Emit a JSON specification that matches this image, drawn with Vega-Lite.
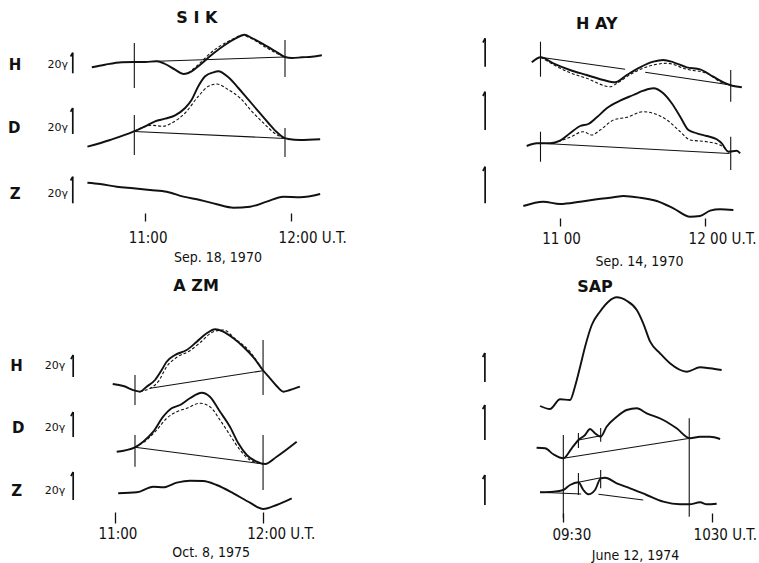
{
"$schema": "https://vega.github.io/schema/vega-lite/v6.json",
"background": "white",
"padding": 0,
"columns": 2,
"spacing": 0,
"bounds": "flush",
"config": {"view": {"stroke": null}},
"datasets": {
"lines": [
{"p":"SIK","s":"H","k":"s","t":638.4,"y":213.7},{"p":"SIK","s":"H","k":"s","t":643.8,"y":216.3},{"p":"SIK","s":"H","k":"s","t":650.7,"y":218.7},{"p":"SIK","s":"H","k":"s","t":655.8,"y":219},{"p":"SIK","s":"H","k":"s","t":660.2,"y":219},{"p":"SIK","s":"H","k":"s","t":665.0,"y":219.7},{"p":"SIK","s":"H","k":"s","t":668.4,"y":217},{"p":"SIK","s":"H","k":"s","t":672.5,"y":211.3},{"p":"SIK","s":"H","k":"s","t":675.9,"y":207},{"p":"SIK","s":"H","k":"s","t":677.9,"y":208},{"p":"SIK","s":"H","k":"s","t":682.0,"y":214.7},{"p":"SIK","s":"H","k":"s","t":687.5,"y":226.3},{"p":"SIK","s":"H","k":"s","t":693.0,"y":236.3},{"p":"SIK","s":"H","k":"s","t":697.1,"y":242.3},{"p":"SIK","s":"H","k":"s","t":700.9,"y":246.3},{"p":"SIK","s":"H","k":"s","t":703.9,"y":243},{"p":"SIK","s":"H","k":"s","t":709.4,"y":235.7},{"p":"SIK","s":"H","k":"s","t":714.1,"y":229},{"p":"SIK","s":"H","k":"s","t":717.5,"y":224},{"p":"SIK","s":"H","k":"s","t":720.3,"y":223},{"p":"SIK","s":"H","k":"s","t":724.4,"y":223.7},{"p":"SIK","s":"H","k":"s","t":728.5,"y":224.3},{"p":"SIK","s":"H","k":"s","t":732.6,"y":225.7},
{"p":"SIK","s":"H","k":"d","t":677.9,"y":208},{"p":"SIK","s":"H","k":"d","t":682.0,"y":216.3},{"p":"SIK","s":"H","k":"d","t":687.5,"y":229},{"p":"SIK","s":"H","k":"d","t":693.0,"y":238},{"p":"SIK","s":"H","k":"d","t":697.1,"y":243},{"p":"SIK","s":"H","k":"d","t":699.8,"y":245.7},{"p":"SIK","s":"H","k":"d","t":703.9,"y":242.3},{"p":"SIK","s":"H","k":"d","t":709.4,"y":234},{"p":"SIK","s":"H","k":"d","t":714.1,"y":227.7},{"p":"SIK","s":"H","k":"d","t":717.5,"y":223.7},
{"p":"SIK","s":"D","k":"s","t":636.6,"y":134.3},{"p":"SIK","s":"D","k":"s","t":645.9,"y":141},{"p":"SIK","s":"D","k":"s","t":655.4,"y":149.3},{"p":"SIK","s":"D","k":"s","t":660.2,"y":154.7},{"p":"SIK","s":"D","k":"s","t":664.3,"y":159.7},{"p":"SIK","s":"D","k":"s","t":668.4,"y":162.3},{"p":"SIK","s":"D","k":"s","t":672.5,"y":165.7},{"p":"SIK","s":"D","k":"s","t":676.6,"y":173},{"p":"SIK","s":"D","k":"s","t":679.3,"y":181.3},{"p":"SIK","s":"D","k":"s","t":682.0,"y":194.7},{"p":"SIK","s":"D","k":"s","t":684.8,"y":204.7},{"p":"SIK","s":"D","k":"s","t":688.2,"y":208.7},{"p":"SIK","s":"D","k":"s","t":690.2,"y":209.7},{"p":"SIK","s":"D","k":"s","t":694.3,"y":203.7},{"p":"SIK","s":"D","k":"s","t":698.4,"y":193},{"p":"SIK","s":"D","k":"s","t":702.5,"y":181.3},{"p":"SIK","s":"D","k":"s","t":706.6,"y":169.7},{"p":"SIK","s":"D","k":"s","t":710.7,"y":158},{"p":"SIK","s":"D","k":"s","t":714.1,"y":149},{"p":"SIK","s":"D","k":"s","t":716.8,"y":143.7},{"p":"SIK","s":"D","k":"s","t":718.9,"y":142},{"p":"SIK","s":"D","k":"s","t":723.7,"y":141},{"p":"SIK","s":"D","k":"s","t":731.9,"y":141.7},
{"p":"SIK","s":"D","k":"d","t":655.8,"y":149.7},{"p":"SIK","s":"D","k":"d","t":663.0,"y":155.7},{"p":"SIK","s":"D","k":"d","t":667.7,"y":154.7},{"p":"SIK","s":"D","k":"d","t":671.1,"y":158},{"p":"SIK","s":"D","k":"d","t":676.6,"y":168},{"p":"SIK","s":"D","k":"d","t":682.0,"y":184.7},{"p":"SIK","s":"D","k":"d","t":686.1,"y":194.7},{"p":"SIK","s":"D","k":"d","t":689.6,"y":197},{"p":"SIK","s":"D","k":"d","t":694.3,"y":191.3},{"p":"SIK","s":"D","k":"d","t":699.1,"y":183},{"p":"SIK","s":"D","k":"d","t":703.9,"y":169.7},{"p":"SIK","s":"D","k":"d","t":709.4,"y":156.3},{"p":"SIK","s":"D","k":"d","t":714.1,"y":146.3},{"p":"SIK","s":"D","k":"d","t":717.5,"y":143},
{"p":"SIK","s":"Z","k":"s","t":636.6,"y":98.3},{"p":"SIK","s":"Z","k":"s","t":641.8,"y":97},{"p":"SIK","s":"Z","k":"s","t":648.6,"y":94.3},{"p":"SIK","s":"Z","k":"s","t":655.4,"y":92.7},{"p":"SIK","s":"Z","k":"s","t":662.3,"y":91},{"p":"SIK","s":"Z","k":"s","t":669.1,"y":89.3},{"p":"SIK","s":"Z","k":"s","t":675.9,"y":84.3},{"p":"SIK","s":"Z","k":"s","t":682.7,"y":81},{"p":"SIK","s":"Z","k":"s","t":689.6,"y":76.7},{"p":"SIK","s":"Z","k":"s","t":696.4,"y":73.3},{"p":"SIK","s":"Z","k":"s","t":703.2,"y":74.3},{"p":"SIK","s":"Z","k":"s","t":710.0,"y":79.3},{"p":"SIK","s":"Z","k":"s","t":716.8,"y":84.3},{"p":"SIK","s":"Z","k":"s","t":723.7,"y":83.7},{"p":"SIK","s":"Z","k":"s","t":731.9,"y":87},
{"p":"HAY","s":"H","k":"s","t":648.3,"y":218.7},{"p":"HAY","s":"H","k":"s","t":652.0,"y":223.7},{"p":"HAY","s":"H","k":"s","t":657.2,"y":217.7},{"p":"HAY","s":"H","k":"s","t":664.1,"y":211},{"p":"HAY","s":"H","k":"s","t":671.0,"y":206},{"p":"HAY","s":"H","k":"s","t":677.9,"y":201},{"p":"HAY","s":"H","k":"s","t":682.8,"y":198.7},{"p":"HAY","s":"H","k":"s","t":687.6,"y":206},{"p":"HAY","s":"H","k":"s","t":693.1,"y":213.7},{"p":"HAY","s":"H","k":"s","t":698.6,"y":219.3},{"p":"HAY","s":"H","k":"s","t":702.7,"y":221},{"p":"HAY","s":"H","k":"s","t":706.9,"y":218.7},{"p":"HAY","s":"H","k":"s","t":712.4,"y":213.7},{"p":"HAY","s":"H","k":"s","t":717.9,"y":211.7},{"p":"HAY","s":"H","k":"s","t":723.4,"y":204.3},{"p":"HAY","s":"H","k":"s","t":727.6,"y":198.7},{"p":"HAY","s":"H","k":"s","t":730.3,"y":196},{"p":"HAY","s":"H","k":"s","t":735.2,"y":193.7},
{"p":"HAY","s":"H","k":"d","t":652.0,"y":223.7},{"p":"HAY","s":"H","k":"d","t":664.1,"y":208.3},{"p":"HAY","s":"H","k":"d","t":671.0,"y":202.7},{"p":"HAY","s":"H","k":"d","t":680.7,"y":194.3},{"p":"HAY","s":"H","k":"d","t":683.5,"y":197.7},{"p":"HAY","s":"H","k":"d","t":690.3,"y":208.3},{"p":"HAY","s":"H","k":"d","t":698.6,"y":216},{"p":"HAY","s":"H","k":"d","t":704.2,"y":217.7},{"p":"HAY","s":"H","k":"d","t":712.4,"y":211.7},{"p":"HAY","s":"H","k":"d","t":720.7,"y":207.7},{"p":"HAY","s":"H","k":"d","t":726.2,"y":199.3},{"p":"HAY","s":"H","k":"d","t":730.3,"y":196},
{"p":"HAY","s":"D","k":"s","t":646.2,"y":135},{"p":"HAY","s":"D","k":"s","t":650.4,"y":137.7},{"p":"HAY","s":"D","k":"s","t":655.9,"y":137.7},{"p":"HAY","s":"D","k":"s","t":660,"y":140.3},{"p":"HAY","s":"D","k":"s","t":664.1,"y":147.7},{"p":"HAY","s":"D","k":"s","t":668.3,"y":155},{"p":"HAY","s":"D","k":"s","t":671.7,"y":157},{"p":"HAY","s":"D","k":"s","t":675.2,"y":163.7},{"p":"HAY","s":"D","k":"s","t":679.3,"y":172.7},{"p":"HAY","s":"D","k":"s","t":684.8,"y":180.3},{"p":"HAY","s":"D","k":"s","t":690.3,"y":186},{"p":"HAY","s":"D","k":"s","t":694.5,"y":190.3},{"p":"HAY","s":"D","k":"s","t":698.6,"y":192.7},{"p":"HAY","s":"D","k":"s","t":702.7,"y":187.7},{"p":"HAY","s":"D","k":"s","t":706.2,"y":177.7},{"p":"HAY","s":"D","k":"s","t":709.7,"y":164.3},{"p":"HAY","s":"D","k":"s","t":713.1,"y":151},{"p":"HAY","s":"D","k":"s","t":716.6,"y":147.7},{"p":"HAY","s":"D","k":"s","t":720.7,"y":145},{"p":"HAY","s":"D","k":"s","t":724.8,"y":141.7},{"p":"HAY","s":"D","k":"s","t":726.9,"y":137.7},{"p":"HAY","s":"D","k":"s","t":729.6,"y":129.3},{"p":"HAY","s":"D","k":"s","t":733.1,"y":130.3},{"p":"HAY","s":"D","k":"s","t":734.5,"y":127.7},
{"p":"HAY","s":"D","k":"d","t":657.2,"y":137.7},{"p":"HAY","s":"D","k":"d","t":664.1,"y":143.7},{"p":"HAY","s":"D","k":"d","t":669.6,"y":149.3},{"p":"HAY","s":"D","k":"d","t":673.1,"y":146},{"p":"HAY","s":"D","k":"d","t":676.6,"y":151},{"p":"HAY","s":"D","k":"d","t":682.1,"y":161},{"p":"HAY","s":"D","k":"d","t":687.6,"y":163.7},{"p":"HAY","s":"D","k":"d","t":694.5,"y":169.3},{"p":"HAY","s":"D","k":"d","t":698.6,"y":167.7},{"p":"HAY","s":"D","k":"d","t":704.2,"y":161},{"p":"HAY","s":"D","k":"d","t":709.7,"y":149.3},{"p":"HAY","s":"D","k":"d","t":713.8,"y":141},{"p":"HAY","s":"D","k":"d","t":720.7,"y":139.3},{"p":"HAY","s":"D","k":"d","t":726.2,"y":136},{"p":"HAY","s":"D","k":"d","t":729.6,"y":129.3},
{"p":"HAY","s":"Z","k":"s","t":644.8,"y":75},{"p":"HAY","s":"Z","k":"s","t":653.1,"y":79.3},{"p":"HAY","s":"Z","k":"s","t":660,"y":77},{"p":"HAY","s":"Z","k":"s","t":668.3,"y":79.3},{"p":"HAY","s":"Z","k":"s","t":675.2,"y":81.7},{"p":"HAY","s":"Z","k":"s","t":682.1,"y":83.7},{"p":"HAY","s":"Z","k":"s","t":686.2,"y":85},{"p":"HAY","s":"Z","k":"s","t":693.1,"y":83.3},{"p":"HAY","s":"Z","k":"s","t":700.0,"y":80},{"p":"HAY","s":"Z","k":"s","t":706.9,"y":72.7},{"p":"HAY","s":"Z","k":"s","t":713.8,"y":64.3},{"p":"HAY","s":"Z","k":"s","t":717.9,"y":65},{"p":"HAY","s":"Z","k":"s","t":722.1,"y":70.3},{"p":"HAY","s":"Z","k":"s","t":726.2,"y":71.7},{"p":"HAY","s":"Z","k":"s","t":731.7,"y":71},
{"p":"AZM","s":"H","k":"s","t":659.1,"y":179},{"p":"AZM","s":"H","k":"s","t":663.4,"y":177},{"p":"AZM","s":"H","k":"s","t":668.1,"y":172.3},{"p":"AZM","s":"H","k":"s","t":670.1,"y":171.3},{"p":"AZM","s":"H","k":"s","t":672.8,"y":176.3},{"p":"AZM","s":"H","k":"s","t":676.2,"y":183},{"p":"AZM","s":"H","k":"s","t":678.9,"y":193},{"p":"AZM","s":"H","k":"s","t":680.9,"y":201.3},{"p":"AZM","s":"H","k":"s","t":684.3,"y":208},{"p":"AZM","s":"H","k":"s","t":689.0,"y":213},{"p":"AZM","s":"H","k":"s","t":693.1,"y":221.3},{"p":"AZM","s":"H","k":"s","t":697.1,"y":229.7},{"p":"AZM","s":"H","k":"s","t":700.5,"y":233.7},{"p":"AZM","s":"H","k":"s","t":703.8,"y":231.3},{"p":"AZM","s":"H","k":"s","t":707.9,"y":224.7},{"p":"AZM","s":"H","k":"s","t":711.9,"y":216.3},{"p":"AZM","s":"H","k":"s","t":716.0,"y":205.7},{"p":"AZM","s":"H","k":"s","t":719.8,"y":193},{"p":"AZM","s":"H","k":"s","t":722.7,"y":184.7},{"p":"AZM","s":"H","k":"s","t":725.4,"y":177},{"p":"AZM","s":"H","k":"s","t":728.1,"y":171.3},{"p":"AZM","s":"H","k":"s","t":730.8,"y":173},{"p":"AZM","s":"H","k":"s","t":734.8,"y":176.3},
{"p":"AZM","s":"H","k":"d","t":670.1,"y":171.3},{"p":"AZM","s":"H","k":"d","t":674.2,"y":174.7},{"p":"AZM","s":"H","k":"d","t":677.5,"y":181.3},{"p":"AZM","s":"H","k":"d","t":680.9,"y":196.3},{"p":"AZM","s":"H","k":"d","t":685.0,"y":205.7},{"p":"AZM","s":"H","k":"d","t":690.3,"y":212.3},{"p":"AZM","s":"H","k":"d","t":694.4,"y":220.3},{"p":"AZM","s":"H","k":"d","t":699.8,"y":231.3},{"p":"AZM","s":"H","k":"d","t":703.8,"y":233},{"p":"AZM","s":"H","k":"d","t":709.2,"y":223},{"p":"AZM","s":"H","k":"d","t":714.6,"y":211.3},{"p":"AZM","s":"H","k":"d","t":719.8,"y":192.3},
{"p":"AZM","s":"D","k":"s","t":660.7,"y":111.3},{"p":"AZM","s":"D","k":"s","t":668.1,"y":115.7},{"p":"AZM","s":"D","k":"s","t":671.4,"y":121.3},{"p":"AZM","s":"D","k":"s","t":675.5,"y":131.3},{"p":"AZM","s":"D","k":"s","t":679.5,"y":146.3},{"p":"AZM","s":"D","k":"s","t":682.9,"y":154.7},{"p":"AZM","s":"D","k":"s","t":686.3,"y":158},{"p":"AZM","s":"D","k":"s","t":690.3,"y":164.7},{"p":"AZM","s":"D","k":"s","t":695.1,"y":170.3},{"p":"AZM","s":"D","k":"s","t":698.4,"y":166.3},{"p":"AZM","s":"D","k":"s","t":702.5,"y":151.3},{"p":"AZM","s":"D","k":"s","t":706.5,"y":136.3},{"p":"AZM","s":"D","k":"s","t":709.9,"y":119.7},{"p":"AZM","s":"D","k":"s","t":713.3,"y":108},{"p":"AZM","s":"D","k":"s","t":717.3,"y":101.3},{"p":"AZM","s":"D","k":"s","t":720.7,"y":99},{"p":"AZM","s":"D","k":"s","t":725.4,"y":106.3},{"p":"AZM","s":"D","k":"s","t":733.5,"y":121.3},
{"p":"AZM","s":"D","k":"d","t":668.1,"y":115.7},{"p":"AZM","s":"D","k":"d","t":672.8,"y":123},{"p":"AZM","s":"D","k":"d","t":676.9,"y":133},{"p":"AZM","s":"D","k":"d","t":680.9,"y":144.7},{"p":"AZM","s":"D","k":"d","t":685.0,"y":151.3},{"p":"AZM","s":"D","k":"d","t":689.0,"y":154.7},{"p":"AZM","s":"D","k":"d","t":694.4,"y":159.7},{"p":"AZM","s":"D","k":"d","t":698.4,"y":156.3},{"p":"AZM","s":"D","k":"d","t":702.5,"y":143},{"p":"AZM","s":"D","k":"d","t":706.5,"y":128},{"p":"AZM","s":"D","k":"d","t":710.6,"y":113},{"p":"AZM","s":"D","k":"d","t":714.6,"y":103},{"p":"AZM","s":"D","k":"d","t":720.0,"y":99},
{"p":"AZM","s":"Z","k":"s","t":661.3,"y":69.7},{"p":"AZM","s":"Z","k":"s","t":668.8,"y":70.7},{"p":"AZM","s":"Z","k":"s","t":675.5,"y":76.3},{"p":"AZM","s":"Z","k":"s","t":679.5,"y":75.7},{"p":"AZM","s":"Z","k":"s","t":685.0,"y":80.3},{"p":"AZM","s":"Z","k":"s","t":690.3,"y":82.3},{"p":"AZM","s":"Z","k":"s","t":695.7,"y":82},{"p":"AZM","s":"Z","k":"s","t":701.1,"y":78},{"p":"AZM","s":"Z","k":"s","t":707.9,"y":69.7},{"p":"AZM","s":"Z","k":"s","t":714.6,"y":60.3},{"p":"AZM","s":"Z","k":"s","t":720.0,"y":54},{"p":"AZM","s":"Z","k":"s","t":725.4,"y":58},{"p":"AZM","s":"Z","k":"s","t":731.5,"y":64.7},
{"p":"SAP","s":"H","k":"s","t":560.6,"y":157},{"p":"SAP","s":"H","k":"s","t":564.6,"y":154},{"p":"SAP","s":"H","k":"s","t":568.7,"y":163.7},{"p":"SAP","s":"H","k":"s","t":572.7,"y":163},{"p":"SAP","s":"H","k":"s","t":574.7,"y":176.3},{"p":"SAP","s":"H","k":"s","t":576.8,"y":196.3},{"p":"SAP","s":"H","k":"s","t":578.8,"y":216.3},{"p":"SAP","s":"H","k":"s","t":581.5,"y":238},{"p":"SAP","s":"H","k":"s","t":584.8,"y":251.3},{"p":"SAP","s":"H","k":"s","t":588.2,"y":261.3},{"p":"SAP","s":"H","k":"s","t":591.6,"y":265.7},{"p":"SAP","s":"H","k":"s","t":595.6,"y":262.3},{"p":"SAP","s":"H","k":"s","t":599.7,"y":253},{"p":"SAP","s":"H","k":"s","t":602.3,"y":239.7},{"p":"SAP","s":"H","k":"s","t":605.1,"y":221.3},{"p":"SAP","s":"H","k":"s","t":609.1,"y":209.7},{"p":"SAP","s":"H","k":"s","t":613.1,"y":199.7},{"p":"SAP","s":"H","k":"s","t":619.9,"y":191.3},{"p":"SAP","s":"H","k":"s","t":625.3,"y":195.7},{"p":"SAP","s":"H","k":"s","t":629.3,"y":194.7},{"p":"SAP","s":"H","k":"s","t":634.0,"y":193},
{"p":"SAP","s":"D","k":"s","t":559.2,"y":115.3},{"p":"SAP","s":"D","k":"s","t":562.6,"y":114.7},{"p":"SAP","s":"D","k":"s","t":566.0,"y":108.7},{"p":"SAP","s":"D","k":"s","t":570.0,"y":104.7},{"p":"SAP","s":"D","k":"s","t":573.4,"y":114.7},{"p":"SAP","s":"D","k":"s","t":576.1,"y":123},{"p":"SAP","s":"D","k":"s","t":578.8,"y":128},{"p":"SAP","s":"D","k":"s","t":580.8,"y":134},{"p":"SAP","s":"D","k":"s","t":582.8,"y":129.7},{"p":"SAP","s":"D","k":"s","t":585.1,"y":126.3},{"p":"SAP","s":"D","k":"s","t":587.5,"y":136.3},{"p":"SAP","s":"D","k":"s","t":591.6,"y":146.3},{"p":"SAP","s":"D","k":"s","t":595.6,"y":153},{"p":"SAP","s":"D","k":"s","t":599.7,"y":154.7},{"p":"SAP","s":"D","k":"s","t":603.7,"y":149.7},{"p":"SAP","s":"D","k":"s","t":610.4,"y":143},{"p":"SAP","s":"D","k":"s","t":615.8,"y":134.7},{"p":"SAP","s":"D","k":"s","t":621.2,"y":124.7},{"p":"SAP","s":"D","k":"s","t":625.3,"y":126.3},{"p":"SAP","s":"D","k":"s","t":629.3,"y":126.3},{"p":"SAP","s":"D","k":"s","t":633.4,"y":124},
{"p":"SAP","s":"Z","k":"s","t":560.6,"y":70.7},{"p":"SAP","s":"Z","k":"s","t":566.0,"y":71.3},{"p":"SAP","s":"Z","k":"s","t":570.0,"y":73},{"p":"SAP","s":"Z","k":"s","t":572.7,"y":78},{"p":"SAP","s":"Z","k":"s","t":576.1,"y":80.7},{"p":"SAP","s":"Z","k":"s","t":578.1,"y":73},{"p":"SAP","s":"Z","k":"s","t":580.1,"y":68.7},{"p":"SAP","s":"Z","k":"s","t":582.8,"y":73},{"p":"SAP","s":"Z","k":"s","t":585.1,"y":84.7},{"p":"SAP","s":"Z","k":"s","t":586.9,"y":85.3},{"p":"SAP","s":"Z","k":"s","t":591.6,"y":79.7},{"p":"SAP","s":"Z","k":"s","t":597.0,"y":74.7},{"p":"SAP","s":"Z","k":"s","t":603.7,"y":68},{"p":"SAP","s":"Z","k":"s","t":610.4,"y":61.3},{"p":"SAP","s":"Z","k":"s","t":617.2,"y":58.7},{"p":"SAP","s":"Z","k":"s","t":620.9,"y":58.7},{"p":"SAP","s":"Z","k":"s","t":625.3,"y":60.7},{"p":"SAP","s":"Z","k":"s","t":628.0,"y":58.7},{"p":"SAP","s":"Z","k":"s","t":632.0,"y":59.3}
],
"rules": [
{"p":"SIK","k":"b","t":655.8,"y":219,"t2":717.5,"y2":224},
{"p":"SIK","k":"m","t":655.8,"y":238,"t2":655.8,"y2":193},
{"p":"SIK","k":"m","t":717.5,"y":241,"t2":717.5,"y2":204},
{"p":"SIK","k":"b","t":655.8,"y":149.5,"t2":717.5,"y2":142.5},
{"p":"SIK","k":"m","t":655.8,"y":166,"t2":655.8,"y2":126},
{"p":"SIK","k":"m","t":717.5,"y":153,"t2":717.5,"y2":124},
{"p":"SIK","k":"s","t":630.6,"y":207.7,"t2":630.6,"y2":228.3},
{"p":"SIK","k":"s","t":629.7,"y":224.5,"t2":630.6,"y2":228.3},
{"p":"SIK","k":"s","t":630.6,"y":147,"t2":630.6,"y2":173},
{"p":"SIK","k":"s","t":629.7,"y":169.2,"t2":630.6,"y2":173},
{"p":"SIK","k":"s","t":630.6,"y":77.7,"t2":630.6,"y2":104.3},
{"p":"SIK","k":"s","t":629.7,"y":100.5,"t2":630.6,"y2":104.3},
{"p":"HAY","k":"b","t":651.9,"y":223.7,"t2":686.9,"y2":211.7},
{"p":"HAY","k":"b","t":695.2,"y":208.8,"t2":730.6,"y2":196},
{"p":"HAY","k":"m","t":651.9,"y":239.3,"t2":651.9,"y2":204.3},
{"p":"HAY","k":"m","t":730.6,"y":211,"t2":730.6,"y2":179.3},
{"p":"HAY","k":"b","t":651.9,"y":137.7,"t2":730.1,"y2":127.5},
{"p":"HAY","k":"m","t":651.9,"y":149.3,"t2":651.9,"y2":119.3},
{"p":"HAY","k":"m","t":730.6,"y":144.3,"t2":730.6,"y2":111},
{"p":"HAY","k":"s","t":629.0,"y":214.3,"t2":629.0,"y2":242.7},
{"p":"HAY","k":"s","t":628.1,"y":238.5,"t2":629.0,"y2":242.7},
{"p":"HAY","k":"s","t":629.0,"y":151,"t2":629.0,"y2":189.3},
{"p":"HAY","k":"s","t":628.1,"y":185,"t2":629.0,"y2":189.3},
{"p":"HAY","k":"s","t":629.0,"y":77.7,"t2":629.0,"y2":114.3},
{"p":"HAY","k":"s","t":628.1,"y":110,"t2":629.0,"y2":114.3},
{"p":"AZM","k":"b","t":674.2,"y":174.7,"t2":719.8,"y2":192.3},
{"p":"AZM","k":"m","t":668.1,"y":188,"t2":668.1,"y2":158},
{"p":"AZM","k":"m","t":719.9,"y":223,"t2":719.9,"y2":168},
{"p":"AZM","k":"b","t":668.1,"y":115.7,"t2":720.0,"y2":99},
{"p":"AZM","k":"m","t":668.1,"y":128,"t2":668.1,"y2":96.3},
{"p":"AZM","k":"m","t":719.9,"y":128,"t2":719.9,"y2":73},
{"p":"AZM","k":"s","t":643.1,"y":186,"t2":643.1,"y2":208},
{"p":"AZM","k":"s","t":642.2,"y":203.8,"t2":643.1,"y2":208},
{"p":"AZM","k":"s","t":643.1,"y":126,"t2":643.1,"y2":151},
{"p":"AZM","k":"s","t":642.2,"y":146.8,"t2":643.1,"y2":151},
{"p":"AZM","k":"s","t":643.1,"y":63,"t2":643.1,"y2":91},
{"p":"AZM","k":"s","t":642.2,"y":86.8,"t2":643.1,"y2":91},
{"p":"SAP","k":"b","t":570.0,"y":104.7,"t2":621.2,"y2":124.7},
{"p":"SAP","k":"b","t":576.1,"y":123,"t2":585.1,"y2":127.3},
{"p":"SAP","k":"m","t":576.1,"y":130,"t2":576.1,"y2":115},
{"p":"SAP","k":"m","t":585.1,"y":135,"t2":585.1,"y2":121.3},
{"p":"SAP","k":"m","t":570.0,"y":128,"t2":570.0,"y2":45},
{"p":"SAP","k":"m","t":620.9,"y":144.7,"t2":620.9,"y2":46.3},
{"p":"SAP","k":"b","t":560.6,"y":70.7,"t2":577.2,"y2":69},
{"p":"SAP","k":"b","t":576.1,"y":80.7,"t2":585.1,"y2":85.3},
{"p":"SAP","k":"b","t":584.2,"y":68.7,"t2":602.3,"y2":63},
{"p":"SAP","k":"m","t":576.1,"y":90,"t2":576.1,"y2":68},
{"p":"SAP","k":"m","t":585.1,"y":93,"t2":585.1,"y2":74.7},
{"p":"SAP","k":"s","t":538.3,"y":181,"t2":538.3,"y2":210},
{"p":"SAP","k":"s","t":537.4,"y":205.8,"t2":538.3,"y2":210},
{"p":"SAP","k":"s","t":538.3,"y":123,"t2":538.3,"y2":158},
{"p":"SAP","k":"s","t":537.4,"y":153.8,"t2":538.3,"y2":158},
{"p":"SAP","k":"s","t":538.3,"y":58,"t2":538.3,"y2":88},
{"p":"SAP","k":"s","t":537.4,"y":83.8,"t2":538.3,"y2":88}
],
"txt": [
{"p":"SIK","k":"c","t":607.0,"y":216,"l":"H"},
{"p":"SIK","k":"c","t":606.6,"y":153.5,"l":"D"},
{"p":"SIK","k":"c","t":607.0,"y":87,"l":"Z"},
{"p":"SIK","k":"g","t":624.4,"y":216,"l":"20γ"},
{"p":"SIK","k":"g","t":624.4,"y":153.5,"l":"20γ"},
{"p":"SIK","k":"g","t":624.4,"y":87,"l":"20γ"},
{"p":"SIK","k":"h","t":681.4,"y":262.7,"l":"S I K"},
{"p":"HAY","k":"h","t":675.2,"y":257,"l":"H AY"},
{"p":"AZM","k":"c","t":620.2,"y":197,"l":"H"},
{"p":"AZM","k":"c","t":620.9,"y":135.5,"l":"D"},
{"p":"AZM","k":"c","t":620.2,"y":72,"l":"Z"},
{"p":"AZM","k":"g","t":635.7,"y":197,"l":"20γ"},
{"p":"AZM","k":"g","t":635.7,"y":135.5,"l":"20γ"},
{"p":"AZM","k":"g","t":635.7,"y":72,"l":"20γ"},
{"p":"AZM","k":"h","t":692.8,"y":277,"l":"A ZM"},
{"p":"SAP","k":"h","t":582.8,"y":276.5,"l":"SAP"}
]
},
"concat": [
{
"width": 380, "height": 281,
"encoding": {
"x": {"field": "t", "type": "quantitative", "scale": {"domain": [600.8, 756.4], "nice": false, "zero": false},
 "axis": {"values": [660, 720], "labelExpr": "datum.value == 660 ? '11:00' : '12:00 U.T.'", "domain": false, "grid": false, "tickSize": 8, "tickColor": "#111", "tickWidth": 1.3, "offset": -68, "labelPadding": 16, "labelBaseline": "middle", "labelFont": "DejaVu Sans Condensed", "labelFontSize": 15, "labelColor": "#111", "labelAlign": {"condition": {"test": "datum.value == 720", "value": "left"}, "value": "center"}, "labelOffset": {"condition": {"test": "datum.value == 720", "value": -13}, "value": 3}, "labelFlush": false, "labelOverlap": false, "title": "Sep. 18, 1970", "titleX": 217.5, "titleY": 44.5, "titleBaseline": "middle", "titleAlign": "center", "titleFont": "DejaVu Sans Condensed", "titleFontSize": 14, "titleFontWeight": "normal", "titleColor": "#111"}},
"y": {"field": "y", "type": "quantitative", "scale": {"domain": [0, 281], "nice": false, "zero": false}, "axis": null}
},
"layer": [
{"data": {"name": "rules"}, "transform": [{"filter": "datum.p == 'SIK' && datum.k != 's'"}], "mark": {"type": "rule", "color": "#111", "strokeWidth": 1.1}, "encoding": {"x2": {"field": "t2"}, "y2": {"field": "y2"}}},
{"data": {"name": "rules"}, "transform": [{"filter": "datum.p == 'SIK' && datum.k == 's'"}], "mark": {"type": "rule", "color": "#111", "strokeWidth": 1.7}, "encoding": {"x2": {"field": "t2"}, "y2": {"field": "y2"}}},
{"data": {"name": "lines"}, "transform": [{"filter": "datum.p == 'SIK' && datum.k == 'd'"}], "mark": {"type": "line", "color": "#111", "strokeWidth": 1.1, "strokeDash": [3, 2], "interpolate": "monotone"}, "encoding": {"detail": {"field": "s"}}},
{"data": {"name": "lines"}, "transform": [{"filter": "datum.p == 'SIK' && datum.k == 's'"}], "mark": {"type": "line", "color": "#111", "strokeWidth": 1.9, "interpolate": "monotone"}, "encoding": {"detail": {"field": "s"}}},
{"data": {"name": "txt"}, "transform": [{"filter": "datum.p == 'SIK' && datum.k == 'c'"}], "mark": {"type": "text", "font": "DejaVu Sans", "fontWeight": "bold", "fontSize": 15, "color": "#111", "baseline": "middle"}, "encoding": {"text": {"field": "l"}}},
{"data": {"name": "txt"}, "transform": [{"filter": "datum.p == 'SIK' && datum.k == 'g'"}], "mark": {"type": "text", "font": "DejaVu Sans", "fontSize": 11, "color": "#111", "baseline": "middle"}, "encoding": {"text": {"field": "l"}}},
{"data": {"name": "txt"}, "transform": [{"filter": "datum.p == 'SIK' && datum.k == 'h'"}], "mark": {"type": "text", "font": "DejaVu Sans", "fontWeight": "bold", "fontSize": 16, "color": "#111", "baseline": "middle"}, "encoding": {"text": {"field": "l"}}}
]
},
{
"width": 379, "height": 281,
"encoding": {
"x": {"field": "t", "type": "quantitative", "scale": {"domain": [585.5, 742.3], "nice": false, "zero": false},
 "axis": {"values": [660, 720], "labelExpr": "datum.value == 660 ? '11 00' : '12 00 U.T.'", "domain": false, "grid": false, "tickSize": 8, "tickColor": "#111", "tickWidth": 1.3, "offset": -63, "labelPadding": 12, "labelBaseline": "middle", "labelFont": "DejaVu Sans Condensed", "labelFontSize": 15, "labelColor": "#111", "labelAlign": {"condition": {"test": "datum.value == 720", "value": "left"}, "value": "center"}, "labelOffset": {"condition": {"test": "datum.value == 720", "value": -17}, "value": 1}, "labelFlush": false, "labelOverlap": false, "title": "Sep. 14, 1970", "titleX": 259, "titleY": 43.7, "titleBaseline": "middle", "titleAlign": "center", "titleFont": "DejaVu Sans Condensed", "titleFontSize": 14, "titleFontWeight": "normal", "titleColor": "#111"}},
"y": {"field": "y", "type": "quantitative", "scale": {"domain": [0, 281], "nice": false, "zero": false}, "axis": null}
},
"layer": [
{"data": {"name": "rules"}, "transform": [{"filter": "datum.p == 'HAY' && datum.k != 's'"}], "mark": {"type": "rule", "color": "#111", "strokeWidth": 1.1}, "encoding": {"x2": {"field": "t2"}, "y2": {"field": "y2"}}},
{"data": {"name": "rules"}, "transform": [{"filter": "datum.p == 'HAY' && datum.k == 's'"}], "mark": {"type": "rule", "color": "#111", "strokeWidth": 1.7}, "encoding": {"x2": {"field": "t2"}, "y2": {"field": "y2"}}},
{"data": {"name": "lines"}, "transform": [{"filter": "datum.p == 'HAY' && datum.k == 'd'"}], "mark": {"type": "line", "color": "#111", "strokeWidth": 1.1, "strokeDash": [3, 2], "interpolate": "monotone"}, "encoding": {"detail": {"field": "s"}}},
{"data": {"name": "lines"}, "transform": [{"filter": "datum.p == 'HAY' && datum.k == 's'"}], "mark": {"type": "line", "color": "#111", "strokeWidth": 1.9, "interpolate": "monotone"}, "encoding": {"detail": {"field": "s"}}},
{"data": {"name": "txt"}, "transform": [{"filter": "datum.p == 'HAY' && datum.k == 'h'"}], "mark": {"type": "text", "font": "DejaVu Sans", "fontWeight": "bold", "fontSize": 16, "color": "#111", "baseline": "middle"}, "encoding": {"text": {"field": "l"}}}
]
},
{
"width": 380, "height": 282,
"encoding": {
"x": {"field": "t", "type": "quantitative", "scale": {"domain": [613.5, 767.2], "nice": false, "zero": false},
 "axis": {"values": [660, 720], "labelExpr": "datum.value == 660 ? '11:00' : '12:00 U.T.'", "domain": false, "grid": false, "tickSize": 11, "tickColor": "#111", "tickWidth": 1.3, "offset": -51, "labelPadding": 10, "labelBaseline": "middle", "labelFont": "DejaVu Sans Condensed", "labelFontSize": 15, "labelColor": "#111", "labelAlign": {"condition": {"test": "datum.value == 720", "value": "left"}, "value": "center"}, "labelOffset": {"condition": {"test": "datum.value == 720", "value": -16.6}, "value": 2.5}, "labelFlush": false, "labelOverlap": false, "title": "Oct. 8, 1975", "titleX": 210.7, "titleY": 40.3, "titleBaseline": "middle", "titleAlign": "center", "titleFont": "DejaVu Sans Condensed", "titleFontSize": 14, "titleFontWeight": "normal", "titleColor": "#111"}},
"y": {"field": "y", "type": "quantitative", "scale": {"domain": [0, 282], "nice": false, "zero": false}, "axis": null}
},
"layer": [
{"data": {"name": "rules"}, "transform": [{"filter": "datum.p == 'AZM' && datum.k != 's'"}], "mark": {"type": "rule", "color": "#111", "strokeWidth": 1.1}, "encoding": {"x2": {"field": "t2"}, "y2": {"field": "y2"}}},
{"data": {"name": "rules"}, "transform": [{"filter": "datum.p == 'AZM' && datum.k == 's'"}], "mark": {"type": "rule", "color": "#111", "strokeWidth": 1.7}, "encoding": {"x2": {"field": "t2"}, "y2": {"field": "y2"}}},
{"data": {"name": "lines"}, "transform": [{"filter": "datum.p == 'AZM' && datum.k == 'd'"}], "mark": {"type": "line", "color": "#111", "strokeWidth": 1.1, "strokeDash": [3, 2], "interpolate": "monotone"}, "encoding": {"detail": {"field": "s"}}},
{"data": {"name": "lines"}, "transform": [{"filter": "datum.p == 'AZM' && datum.k == 's'"}], "mark": {"type": "line", "color": "#111", "strokeWidth": 1.9, "interpolate": "monotone"}, "encoding": {"detail": {"field": "s"}}},
{"data": {"name": "txt"}, "transform": [{"filter": "datum.p == 'AZM' && datum.k == 'c'"}], "mark": {"type": "text", "font": "DejaVu Sans", "fontWeight": "bold", "fontSize": 15, "color": "#111", "baseline": "middle"}, "encoding": {"text": {"field": "l"}}},
{"data": {"name": "txt"}, "transform": [{"filter": "datum.p == 'AZM' && datum.k == 'g'"}], "mark": {"type": "text", "font": "DejaVu Sans", "fontSize": 11, "color": "#111", "baseline": "middle"}, "encoding": {"text": {"field": "l"}}},
{"data": {"name": "txt"}, "transform": [{"filter": "datum.p == 'AZM' && datum.k == 'h'"}], "mark": {"type": "text", "font": "DejaVu Sans", "fontWeight": "bold", "fontSize": 16, "color": "#111", "baseline": "middle"}, "encoding": {"text": {"field": "l"}}}
]
},
{
"width": 379, "height": 282,
"encoding": {
"x": {"field": "t", "type": "quantitative", "scale": {"domain": [495.9, 649.1], "nice": false, "zero": false},
 "axis": {"values": [570, 630], "labelExpr": "datum.value == 570 ? '09:30' : '1030 U.T.'", "domain": false, "grid": false, "tickSize": 9, "tickColor": "#111", "tickWidth": 1.3, "offset": -50, "labelPadding": 12, "labelBaseline": "middle", "labelFont": "DejaVu Sans Condensed", "labelFontSize": 15, "labelColor": "#111", "labelAlign": {"condition": {"test": "datum.value == 630", "value": "left"}, "value": "center"}, "labelOffset": {"condition": {"test": "datum.value == 630", "value": -18.7}, "value": 8}, "labelFlush": false, "labelOverlap": false, "title": "June 12, 1974", "titleX": 255, "titleY": 42, "titleBaseline": "middle", "titleAlign": "center", "titleFont": "DejaVu Sans Condensed", "titleFontSize": 14, "titleFontWeight": "normal", "titleColor": "#111"}},
"y": {"field": "y", "type": "quantitative", "scale": {"domain": [0, 282], "nice": false, "zero": false}, "axis": null}
},
"layer": [
{"data": {"name": "rules"}, "transform": [{"filter": "datum.p == 'SAP' && datum.k != 's'"}], "mark": {"type": "rule", "color": "#111", "strokeWidth": 1.1}, "encoding": {"x2": {"field": "t2"}, "y2": {"field": "y2"}}},
{"data": {"name": "rules"}, "transform": [{"filter": "datum.p == 'SAP' && datum.k == 's'"}], "mark": {"type": "rule", "color": "#111", "strokeWidth": 1.7}, "encoding": {"x2": {"field": "t2"}, "y2": {"field": "y2"}}},
{"data": {"name": "lines"}, "transform": [{"filter": "datum.p == 'SAP' && datum.k == 's'"}], "mark": {"type": "line", "color": "#111", "strokeWidth": 1.9, "interpolate": "monotone"}, "encoding": {"detail": {"field": "s"}}},
{"data": {"name": "txt"}, "transform": [{"filter": "datum.p == 'SAP' && datum.k == 'h'"}], "mark": {"type": "text", "font": "DejaVu Sans", "fontWeight": "bold", "fontSize": 16, "color": "#111", "baseline": "middle"}, "encoding": {"text": {"field": "l"}}}
]
}
]
}
